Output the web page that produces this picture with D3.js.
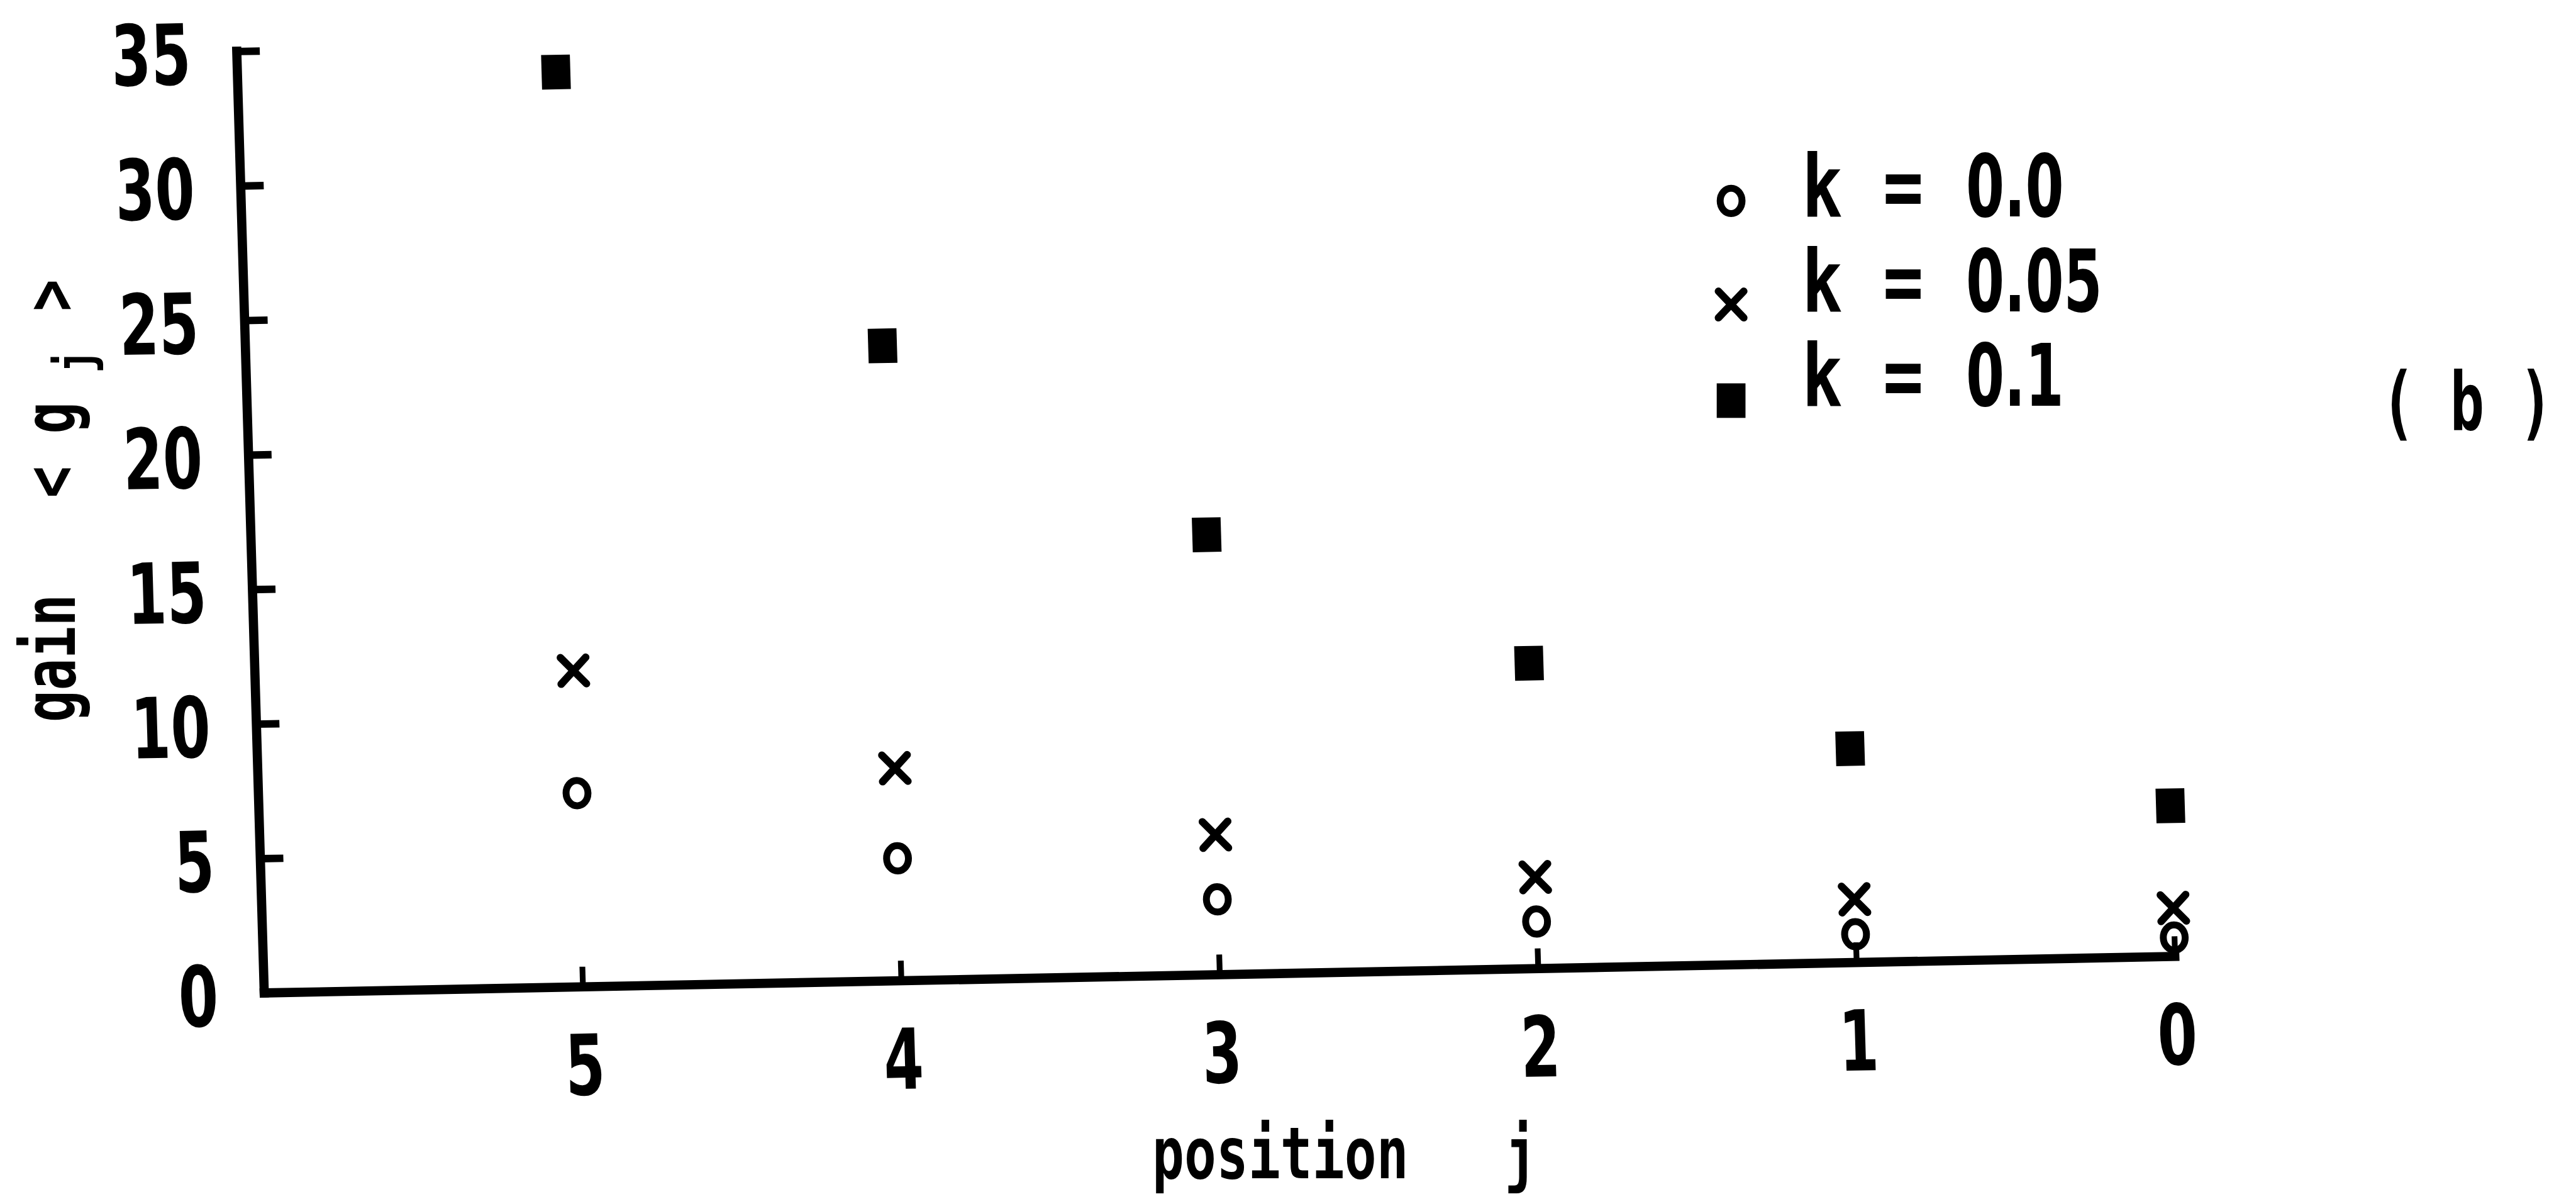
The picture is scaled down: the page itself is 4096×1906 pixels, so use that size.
<!DOCTYPE html>
<html>
<head>
<meta charset="utf-8">
<script src="https://cdn.jsdelivr.net/npm/d3@7"></script>
<style>
  html, body { margin: 0; padding: 0; background: #fff; }
  svg { display: block; }
</style>
</head>
<body>
<svg id="chart"></svg>
<script>
// Values: mean gain <g_j> at each position j
const positions = [5, 4, 3, 2, 1, 0];
const gainK00 = [7.2, 4.55, 2.8, 1.75, 1.05, 0.7];      // k = 0.0  (o)
const gainK005 = [11.75, 7.9, 5.2, 3.4, 2.35, 1.8];     // k = 0.05 (x)
const gainK01 = [34.0, 23.6, 16.35, 11.35, 7.95, 5.6];  // k = 0.1  (filled square)
const yTicks = [0, 5, 10, 15, 20, 25, 30, 35];
const xTicks = [5, 4, 3, 2, 1, 0];
const seriesK = ['0.0', '0.05', '0.1'];
const seriesSymbols = ['circle', 'cross', 'square'];

// Work in the reference's own pixel size, the viewBox shrinks it to the window
const W = 4476, H = 2083;
const svg = d3.select('#chart')
    .attr('width', 4096)
    .attr('height', 1906)
    .attr('viewBox', `0 0 ${W} ${H}`);
svg.append('rect').attr('width', W).attr('height', H).attr('fill', '#fff');

const FONT = '"DejaVu Sans Mono", "Liberation Mono", monospace';
const DIGITS = '"DejaVu Sans", sans-serif';  // plain zero, no dot
const NUM_SCALE = 0.68;  // plotter digits are much narrower than the font
const NARROW_T = 0.74;

// The scanned figure is a little skewed, so the plot frame gets a small shear
const plot = svg.append('g')
    .attr('transform', 'matrix(1,-0.0191,0.0292,1,459,1725)');

const x = d3.scaleLinear().domain([6, 0]).range([0, 3320]);
const y = d3.scaleLinear().domain([0, 35]).range([0, -1636]);

// Axes
const gy = plot.append('g').call(
    d3.axisLeft(y).tickValues(yTicks).tickFormat(d3.format('d'))
      .tickSize(-40).tickSizeOuter(0).tickPadding(80 / NUM_SCALE));
gy.select('.domain').remove();
gy.selectAll('.tick line').attr('stroke', '#000').attr('stroke-width', 13);
gy.selectAll('.tick text')
    .attr('font-family', DIGITS).attr('font-size', 146).attr('font-weight', 'bold').attr('fill', '#000')
    .attr('dy', '0.38em')
    .attr('transform', `scale(${NUM_SCALE},1)`);

const gx = plot.append('g').call(
    d3.axisBottom(x).tickValues(xTicks).tickFormat(d3.format('d'))
      .tickSize(-35).tickSizeOuter(0).tickPadding(84));
gx.select('.domain').remove();
gx.selectAll('.tick line').attr('stroke', '#000').attr('stroke-width', 10);
gx.selectAll('.tick text')
    .attr('font-family', DIGITS).attr('font-size', 146).attr('font-weight', 'bold').attr('fill', '#000')
    .attr('transform', `scale(${NUM_SCALE},1)`);

// axis lines
plot.append('line')
    .attr('x1', x(6)).attr('x2', x(6))
    .attr('y1', y(0)).attr('y2', y(35))
    .attr('stroke', '#000').attr('stroke-width', 16).attr('stroke-linecap', 'square');
plot.append('line')
    .attr('x1', x(6)).attr('x2', x(0))
    .attr('y1', y(0)).attr('y2', y(0))
    .attr('stroke', '#000').attr('stroke-width', 16).attr('stroke-linecap', 'square');

// Marker shapes
function drawSymbol(g, kind) {
  if (kind === 'circle') {
    g.append('ellipse').attr('rx', 19).attr('ry', 22)
        .attr('fill', 'none').attr('stroke', '#000').attr('stroke-width', 12);
  } else if (kind === 'cross') {
    g.append('path').attr('d', 'M-22,-23L22,23M22,-23L-22,23')
        .attr('fill', 'none').attr('stroke', '#000')
        .attr('stroke-width', 13).attr('stroke-linecap', 'round');
  } else {
    g.append('rect').attr('x', -25).attr('y', -30)
        .attr('width', 50).attr('height', 60).attr('fill', '#000');
  }
}

[gainK00, gainK005, gainK01].forEach((vals, i) => {
  plot.append('g').selectAll('g')
      .data(positions.map((p, k) => ({ p: p, v: vals[k] })))
      .join('g')
      .attr('transform', d => `translate(${x(d.p)},${y(d.v)})`)
      .each(function() { drawSymbol(d3.select(this), seriesSymbols[i]); });
});

// Axis titles
svg.append('text')
    .attr('transform', `translate(2002,2047) scale(${NARROW_T},1)`)
    .attr('font-family', FONT).attr('font-size', 125).attr('font-weight', 'bold').attr('fill', '#000')
    .style('white-space', 'pre')
    .text('position   j');

const yTitle = svg.append('text')
    .attr('transform', `translate(130,1255) rotate(-90) scale(${NARROW_T},1)`)
    .attr('font-family', FONT).attr('font-size', 125).attr('font-weight', 'bold').attr('fill', '#000')
    .style('white-space', 'pre');
yTitle.append('tspan').text('gain   < g');
yTitle.append('tspan').attr('font-size', 90).attr('dx', 68).attr('dy', 30).text('j');
yTitle.append('tspan').attr('dx', 15).attr('dy', -30).text(' >');

// Legend
const legendRowY = [376, 541, 705];
const legendMarkerDy = [-27, -12, -9];
seriesK.forEach((kv, i) => {
  const row = svg.append('g').attr('transform', `translate(3008,${legendRowY[i]})`);
  drawSymbol(row.append('g').attr('transform', `translate(0,${legendMarkerDy[i]})`), seriesSymbols[i]);
  row.append('text')
      .attr('transform', 'translate(123,0) scale(0.78,1)')
      .attr('font-family', FONT).attr('font-size', 150).attr('font-weight', 'bold').attr('fill', '#000')
      .style('white-space', 'pre')
      .text('k =');
  row.append('text')
      .attr('transform', `translate(408,0) scale(0.64,1)`)
      .attr('font-family', DIGITS).attr('font-size', 150).attr('font-weight', 'bold').attr('fill', '#000')
      .text(kv);
});

// panel tag
svg.append('text')
    .attr('transform', `translate(4287,748) scale(0.71,1)`)
    .attr('text-anchor', 'middle')
    .attr('font-family', FONT).attr('font-size', 140).attr('font-weight', 'bold').attr('fill', '#000')
    .style('white-space', 'pre')
    .text('( b )');
</script>
</body>
</html>
